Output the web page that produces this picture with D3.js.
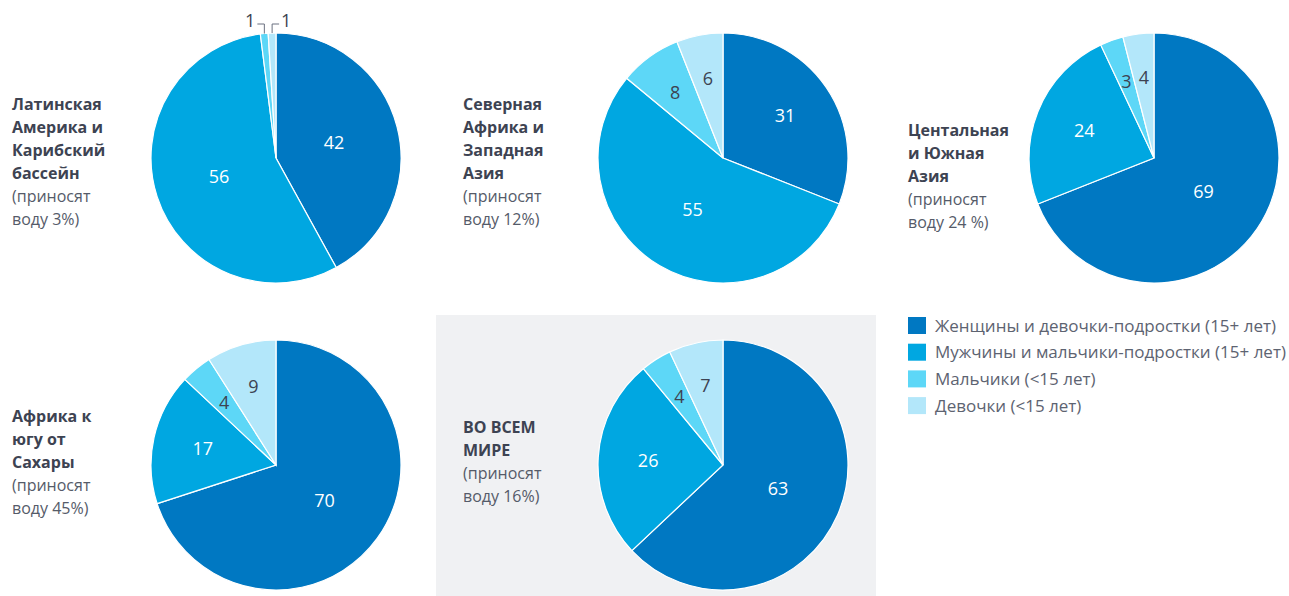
<!DOCTYPE html>
<html>
<head>
<meta charset="utf-8">
<script src="https://cdn.jsdelivr.net/npm/d3@7"></script>
<style>
  body { margin: 0; background: #fff; }
  svg text { font-family: "Open Sans", Lato, sans-serif; }
</style>
</head>
<body>
<script>
var width = 1289,
    height = 596;

// categories (legend order = slice order clockwise from 12 o'clock)
var categories = ["Женщины и девочки-подростки (15+ лет)",
                  "Мужчины и мальчики-подростки (15+ лет)",
                  "Мальчики (<15 лет)",
                  "Девочки (<15 лет)"];
var colors = ["#0078c2", "#00a7e1", "#5dd7f7", "#b3e7fa"];

// values per region
var latam    = [42, 56, 1, 1];
var nafrica  = [31, 55, 8, 6];
var casia    = [69, 24, 3, 4];
var ssafrica = [70, 17, 4, 9];
var world    = [63, 26, 4, 7];

// region titles: bold lines, then regular lines
var latamTitle    = [["Латинская", "Америка и", "Карибский", "бассейн"], ["(приносят", "воду 3%)"]];
var nafricaTitle  = [["Северная", "Африка и", "Западная", "Азия"], ["(приносят", "воду 12%)"]];
var casiaTitle    = [["Центальная", "и Южная", "Азия"], ["(приносят", "воду 24 %)"]];
var ssafricaTitle = [["Африка к", "югу от", "Сахары"], ["(приносят", "воду 45%)"]];
var worldTitle    = [["ВО ВСЕМ", "МИРЕ"], ["(приносят", "воду 16%)"]];

var svg = d3.select("body").append("svg")
    .attr("width", width)
    .attr("height", height);

// grey panel behind the world pie
svg.append("rect")
    .attr("x", 436).attr("y", 315)
    .attr("width", 440).attr("height", 281)
    .attr("fill", "#f0f1f3");

var radius = 125;
var pie = d3.pie().sort(null);
var arc = d3.arc().innerRadius(0).outerRadius(radius);
var color = d3.scaleOrdinal().domain(d3.range(4)).range(colors);

var panels = [
  {values: latam,    title: latamTitle,    cx: 276,  cy: 158, tx: 12,  ty: 110, outside: true},
  {values: nafrica,  title: nafricaTitle,  cx: 723,  cy: 158, tx: 463, ty: 110},
  {values: casia,    title: casiaTitle,    cx: 1154, cy: 158, tx: 908, ty: 136},
  {values: ssafrica, title: ssafricaTitle, cx: 276,  cy: 465, tx: 12,  ty: 422},
  {values: world,    title: worldTitle,    cx: 723,  cy: 465, tx: 463, ty: 433}
];

// label distance from centre, as a share of the radius
function labelRadius(v) {
    if (v < 10) return 0.65;
    if (v < 35) return 0.6;
    return 0.48;
}

panels.forEach(function(p) {
    var g = svg.append("g")
        .attr("transform", "translate(" + p.cx + "," + p.cy + ")");
    var arcs = pie(p.values);

    g.selectAll("path")
        .data(arcs)
        .enter().append("path")
        .attr("d", arc)
        .attr("fill", function(d, i) { return color(i); })
        .attr("stroke", "#fff")
        .attr("stroke-width", 1.2);

    arcs.forEach(function(d, i) {
        if (p.outside && d.data <= 2) {
            // tiny slices: labels above the pie with bracket leaders
            var mid = (d.startAngle + d.endAngle) / 2;
            var x = radius * Math.sin(mid) * 0.99;
            var y0 = -radius * Math.cos(mid);
            var left = i === 2;
            var x2 = left ? x - 7 : x + 7;
            g.append("path")
                .attr("d", "M" + x + "," + y0 + "V" + (-radius - 9) + "H" + x2)
                .attr("fill", "none")
                .attr("stroke", "#6b7180")
                .attr("stroke-width", 1);
            g.append("text")
                .attr("x", left ? x2 - 2 : x2 + 2)
                .attr("y", -radius - 6)
                .attr("text-anchor", left ? "end" : "start")
                .attr("font-size", 18)
                .attr("font-weight", 500)
                .attr("fill", "#3d4352")
                .text(d.data);
            return;
        }
        var r = radius * labelRadius(d.data);
        var c = d3.arc().innerRadius(r).outerRadius(r).centroid(d);
        g.append("text")
            .attr("x", c[0]).attr("y", c[1])
            .attr("dy", "0.35em")
            .attr("text-anchor", "middle")
            .attr("font-size", 18)
            .attr("font-weight", 500)
            .attr("fill", i < 2 ? "#fff" : "#3d4352")
            .text(d.data);
    });

    // region title
    var t = svg.append("text")
        .attr("x", p.tx).attr("y", p.ty)
        .attr("font-size", 16)
        .attr("fill", "#3d4352");
    var lines = p.title[0].map(function(s) { return {s: s, b: true}; })
        .concat(p.title[1].map(function(s) { return {s: s, b: false}; }));
    lines.forEach(function(l, i) {
        t.append("tspan")
            .attr("x", p.tx)
            .attr("dy", i === 0 ? 0 : 23)
            .attr("font-weight", l.b ? 700 : 400)
            .attr("fill", l.b ? "#3d4352" : "#555b69")
            .text(l.s);
    });
});

// legend
var legend = svg.append("g")
    .attr("transform", "translate(908,317)");
var items = legend.selectAll("g")
    .data(categories)
    .enter().append("g")
    .attr("transform", function(d, i) { return "translate(0," + (i * 26.7) + ")"; });
items.append("rect")
    .attr("width", 18).attr("height", 17)
    .attr("fill", function(d, i) { return color(i); });
items.append("text")
    .attr("x", 27).attr("y", 14.5)
    .attr("font-size", 17)
    .attr("fill", "#5d6371")
    .text(function(d) { return d; });
</script>
</body>
</html>
